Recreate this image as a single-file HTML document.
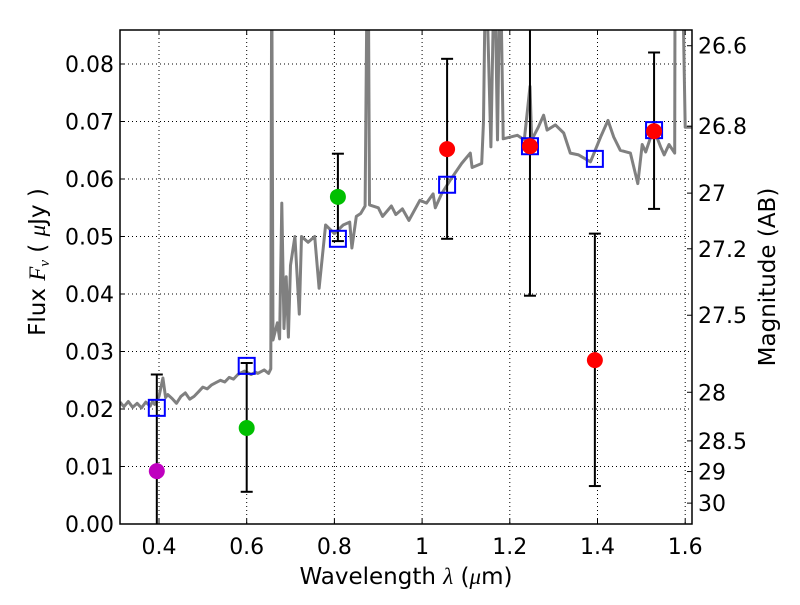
<!DOCTYPE html>
<html><head><meta charset="utf-8"><style>
body{margin:0;background:#fff;}
svg text{font-family:"DejaVu Sans","Liberation Sans",sans-serif;fill:#000;}
</style></head><body>
<svg id="chart" width="800" height="600" xmlns="http://www.w3.org/2000/svg">
<g id="grid"></g>
<g id="spec"></g>
<g id="marks"></g>
<g id="axes"></g>
</svg>
<script>
const specLam=[0.311,0.32,0.33,0.34,0.35,0.36,0.37,0.38,0.385,0.39,0.40,0.409,0.415,0.42,0.43,0.44,0.45,0.46,0.47,0.48,0.49,0.50,0.51,0.52,0.53,0.54,0.55,0.56,0.57,0.58,0.595,0.61,0.62,0.625,0.64,0.65,0.655,0.657,0.66,0.67,0.675,0.68,0.685,0.69,0.695,0.70,0.71,0.72,0.725,0.74,0.755,0.765,0.78,0.80,0.82,0.835,0.84,0.85,0.86,0.87,0.875,0.877,0.88,0.90,0.91,0.93,0.94,0.955,0.97,0.995,1.01,1.025,1.03,1.045,1.064,1.09,1.11,1.114,1.136,1.14,1.145,1.157,1.165,1.172,1.178,1.185,1.217,1.233,1.246,1.25,1.265,1.277,1.285,1.304,1.323,1.338,1.357,1.384,1.407,1.424,1.437,1.452,1.475,1.492,1.502,1.51,1.52,1.529,1.544,1.552,1.563,1.576,1.577,1.585,1.593,1.6,1.615];
const specFlux=[0.0212,0.0204,0.0213,0.0203,0.021,0.0202,0.0212,0.0205,0.0213,0.0208,0.0222,0.0254,0.022,0.0225,0.0218,0.021,0.0222,0.0228,0.0217,0.0222,0.023,0.0238,0.0235,0.0242,0.0246,0.025,0.0247,0.0255,0.0252,0.026,0.0266,0.026,0.0264,0.0262,0.0268,0.0262,0.027,0.1,0.032,0.035,0.0322,0.0558,0.034,0.043,0.0325,0.045,0.05,0.0365,0.05,0.049,0.05,0.041,0.052,0.0505,0.052,0.0525,0.048,0.0535,0.054,0.0553,0.1,0.1,0.0555,0.055,0.0535,0.0553,0.0538,0.0548,0.0528,0.0563,0.0558,0.0574,0.055,0.0575,0.0598,0.0627,0.0645,0.062,0.0627,0.070,0.1,0.0656,0.1,0.0668,0.1,0.067,0.0676,0.0668,0.0761,0.0668,0.069,0.0711,0.0685,0.0694,0.068,0.0645,0.0642,0.063,0.0673,0.0702,0.0673,0.065,0.0645,0.0592,0.066,0.0647,0.067,0.0685,0.0656,0.0642,0.066,0.0645,0.1,0.1,0.1,0.069,0.069];
const modelLam=[0.395,0.6,0.808,1.057,1.246,1.394,1.529];
const modelFlux=[0.0202,0.0275,0.0496,0.059,0.0657,0.0635,0.0685];
const obsLam=[0.395,0.6,0.808,1.057,1.246,1.394,1.529];
const obsFlux=[0.0092,0.0167,0.0569,0.0652,0.0657,0.0285,0.0683];
const obsHi=[0.026,0.028,0.0644,0.0809,0.1,0.0505,0.082];
const obsLo=[-0.01,0.0056,0.0492,0.0496,0.0397,0.0066,0.0548];
const obsColor=['#bf00bf','#00bf00','#00bf00','#ff0000','#ff0000','#ff0000','#ff0000'];
const xTicks=[0.4,0.6,0.8,1,1.2,1.4,1.6];
const yTicks=[0,0.01,0.02,0.03,0.04,0.05,0.06,0.07,0.08];
const magTicks=[26.6,26.8,27,27.2,27.5,28,28.5,29,30];

const L=120,R=692,T=30,B=524;
const X=l=>159+(l-0.4)*438.5;
const Y=f=>524-f*5750;
const ns='http://www.w3.org/2000/svg';
function mk(tag,attrs,parent){const e=document.createElementNS(ns,tag);for(const k in attrs)e.setAttribute(k,attrs[k]);parent.appendChild(e);return e;}
const grid=document.getElementById('grid'),spec=document.getElementById('spec'),marks=document.getElementById('marks'),axes=document.getElementById('axes');
mk('clipPath',{id:'clip'},document.getElementById('chart'));
mk('rect',{x:L,y:T,width:R-L,height:B-T},document.getElementById('clip'));
spec.setAttribute('clip-path','url(#clip)');marks.setAttribute('clip-path','url(#clip)');

xTicks.forEach(t=>{const x=X(t);
 const g=mk('line',{x1:x,x2:x,y1:T,y2:B,stroke:'#000','stroke-width':1,'stroke-dasharray':'1,3'},grid);
 
 mk('line',{x1:x,x2:x,y1:B,y2:B-5,stroke:'#000'},axes);
 mk('line',{x1:x,x2:x,y1:T,y2:T+5,stroke:'#000'},axes);
 const tx=mk('text',{x:x,y:B+30,'font-size':22,'text-anchor':'middle'},axes);tx.textContent=String(t);
 
});
yTicks.forEach(t=>{const y=Y(t);
 if(t>0){const g=mk('line',{x1:L,x2:R,y1:y,y2:y,stroke:'#000','stroke-width':1,'stroke-dasharray':'1,3'},grid);
 }
 mk('line',{x1:L,x2:L+5,y1:y,y2:y,stroke:'#000'},axes);
 const tx=mk('text',{x:L-6,y:y+8,'font-size':22,'text-anchor':'end'},axes);tx.textContent=t.toFixed(2);
 
});
magTicks.forEach(m=>{const y=Y(Math.pow(10,(23.9-m)/2.5));
 mk('line',{x1:R,x2:R-5,y1:y,y2:y,stroke:'#000'},axes);
 const tx=mk('text',{x:R+6,y:y+8,'font-size':22},axes);tx.textContent=String(m);
 
});
let d='';specLam.forEach((l,i)=>{d+=(i?'L':'M')+X(l).toFixed(1)+','+Y(specFlux[i]).toFixed(1);});
const sp=mk('path',{d:d,fill:'none',stroke:'#808080','stroke-width':3,'stroke-linejoin':'round'},spec);

obsLam.forEach((l,i)=>{const x=X(l);
 const e=mk('line',{x1:x,x2:x,y1:Y(obsHi[i]),y2:Y(obsLo[i]),stroke:'#000','stroke-width':2},marks);
 
 [obsHi[i],obsLo[i]].forEach(v=>mk('line',{x1:x-6,x2:x+6,y1:Y(v),y2:Y(v),stroke:'#000','stroke-width':2},marks));
});
modelLam.forEach((l,i)=>{
 const r=mk('rect',{x:X(l)-8,y:Y(modelFlux[i])-8,width:16,height:16,fill:'none',stroke:'#0000ff','stroke-width':2},marks);
 
});
obsLam.forEach((l,i)=>{
 const c=mk('circle',{cx:X(l),cy:Y(obsFlux[i]),r:8,fill:obsColor[i]},marks);
 
});
const fr=mk('rect',{x:L,y:T,width:R-L,height:B-T,fill:'none',stroke:'#000','stroke-width':1.5},axes);

let t=mk('text',{x:406,y:584,'font-size':23,'text-anchor':'middle'},axes);
t.innerHTML='Wavelength  <tspan font-style="italic" font-family="Liberation Serif">λ</tspan> (<tspan font-style="italic" font-family="Liberation Serif">μ</tspan>m)';

t=mk('text',{x:0,y:0,'font-size':23,'text-anchor':'middle',transform:'translate(45,262) rotate(-90)'},axes);
t.innerHTML='Flux  <tspan font-style="italic" font-family="Liberation Serif">F</tspan><tspan font-style="italic" font-family="Liberation Serif" font-size="15" dy="4">ν</tspan><tspan dy="-4">  ( </tspan><tspan font-style="italic" font-family="Liberation Serif">μ</tspan>Jy )';

t=mk('text',{x:0,y:0,'font-size':23,'text-anchor':'middle',transform:'translate(775,277) rotate(-90)'},axes);
t.textContent='Magnitude (AB)';

</script>
</body></html>
